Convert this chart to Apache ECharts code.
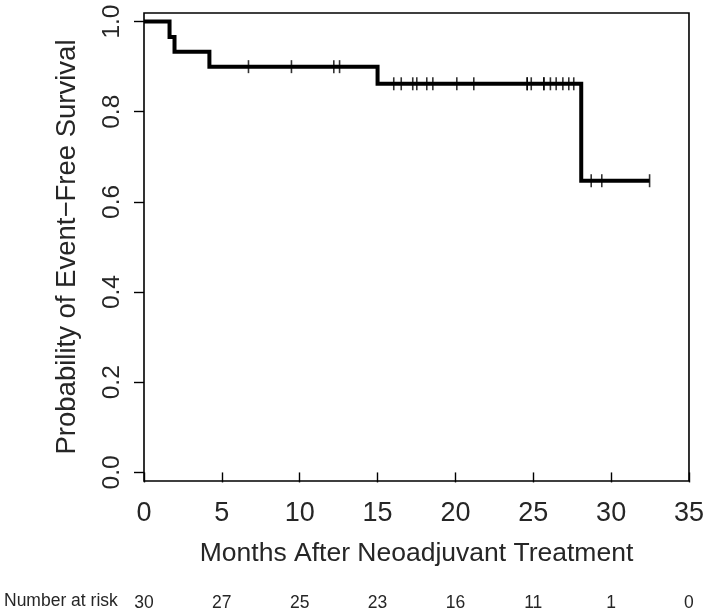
<!DOCTYPE html>
<html>
<head>
<meta charset="utf-8">
<script src="https://cdn.jsdelivr.net/npm/echarts@6/dist/echarts.min.js"></script>
<style>
html,body{margin:0;padding:0;background:#fff;}
#chart{width:707px;height:613px;}
</style>
</head>
<body>
<div id="chart"></div>
<script>
// Kaplan–Meier curve: event times (months) and survival after each event
const startTime = 0;
const startSurvival = 1.0;
const eventTimes = [1.64, 1.96, 4.2, 15.0, 28.08];
const eventSurvival = [0.966, 0.933, 0.900, 0.862, 0.647];
// censored observations (months)
const censorTimes = [6.71, 9.47, 12.19, 12.56, 16.04, 16.52, 17.26, 17.52, 18.16, 18.55,
  20.09, 21.18, 24.61, 24.61, 24.87, 25.68, 25.68, 26.1, 26.47, 26.9, 27.28, 27.6,
  28.72, 29.4, 32.47];
// axis ticks
const xTicks = [0, 5, 10, 15, 20, 25, 30, 35];
const yTicks = [0, 0.2, 0.4, 0.6, 0.8, 1.0];
// number at risk, at each x tick
const atRisk = [30, 27, 25, 23, 16, 11, 1, 0];

function survivalAt(t) {
  let s = startSurvival;
  for (let i = 0; i < eventTimes.length; i++) {
    if (eventTimes[i] <= t) s = eventSurvival[i];
  }
  return s;
}

const lastTime = Math.max(...censorTimes, ...eventTimes);
const curve = [[startTime, startSurvival]];
eventTimes.forEach((t, i) => curve.push([t, eventSurvival[i]]));
curve.push([lastTime, survivalAt(lastTime)]);

const censorPoints = censorTimes.map(t => [t, survivalAt(t)]);

const FONT = 'Liberation Sans';
const TXT = '#262626';

const chart = echarts.init(document.getElementById('chart'), null, {renderer: 'canvas'});
chart.setOption({
  animation: false,
  backgroundColor: '#fff',
  textStyle: {fontFamily: FONT, color: TXT},
  grid: {
    left: 144, right: 18, top: 13, bottom: 132,
    show: true, borderColor: '#000', borderWidth: 1.6, backgroundColor: 'transparent'
  },
  xAxis: [{
    type: 'value', min: 0, max: 35, interval: 5,
    position: 'bottom',
    axisLine: {show: false},
    axisTick: {show: true, length: 10, lineStyle: {color: '#000', width: 1.4}},
    axisLabel: {fontSize: 27, color: TXT, fontFamily: FONT, margin: 19},
    splitLine: {show: false},
    name: 'Months After Neoadjuvant Treatment',
    nameLocation: 'middle', nameGap: 59,
    nameTextStyle: {fontSize: 26.5, color: TXT, fontFamily: FONT}
  }, {
    type: 'value', min: 0, max: 35, interval: 5,
    position: 'bottom', offset: 102,
    axisLine: {show: false}, axisTick: {show: false}, splitLine: {show: false},
    axisLabel: {
      fontSize: 17.5, color: TXT, fontFamily: FONT, margin: 11,
      formatter: v => { const i = xTicks.indexOf(v); return i >= 0 ? String(atRisk[i]) : ''; }
    }
  }],
  yAxis: {
    type: 'value', min: -0.019, max: 1.019,
    axisLine: {show: false},
    axisTick: {show: true, length: 10, customValues: yTicks, lineStyle: {color: '#000', width: 1.4}},
    axisLabel: {
      rotate: 90, fontSize: 24.5, color: TXT, fontFamily: FONT, margin: 19,
      customValues: yTicks, formatter: v => v.toFixed(1)
    },
    splitLine: {show: false},
    name: 'Probability of Event\u2212Free Survival',
    nameLocation: 'middle', nameGap: 63, nameRotate: 90,
    nameTextStyle: {fontSize: 27.5, color: TXT, fontFamily: FONT}
  },
  graphic: [{
    type: 'text', left: 4, top: 592,
    style: {text: 'Number at risk', fontSize: 17.5, fontFamily: FONT, fill: TXT}
  }],
  series: [{
    type: 'line', xAxisIndex: 0, data: curve, step: 'end',
    showSymbol: false, symbol: 'none',
    lineStyle: {color: '#000', width: 4, cap: 'butt', join: 'miter'},
    z: 3
  }, {
    type: 'scatter', xAxisIndex: 0, data: censorPoints,
    symbol: 'rect', symbolSize: [1.6, 13],
    itemStyle: {color: '#000'},
    z: 4
  }]
});
</script>
</body>
</html>
